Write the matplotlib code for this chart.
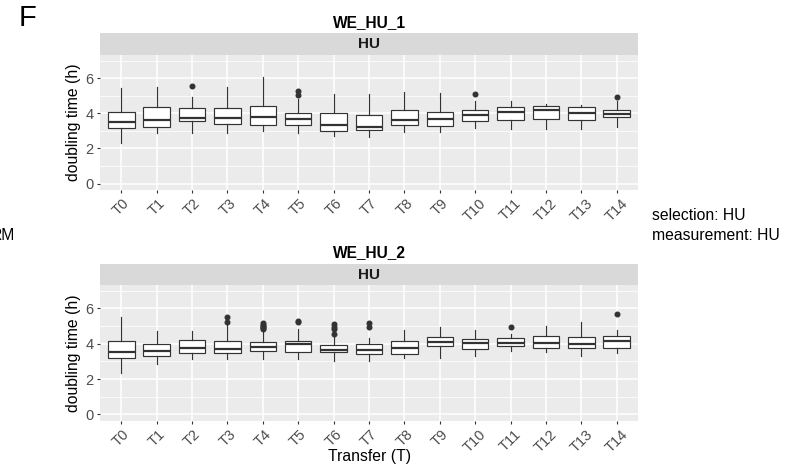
import matplotlib
matplotlib.use('Agg')

import matplotlib.pyplot as plt
from matplotlib.ticker import MultipleLocator

# Helvetica-like text, ggplot look
plt.rcParams['font.family'] = ['Liberation Sans', 'DejaVu Sans']

transfers = ['T0', 'T1', 'T2', 'T3', 'T4', 'T5', 'T6', 'T7',
             'T8', 'T9', 'T10', 'T11', 'T12', 'T13', 'T14']

# ---- WE_HU_1 : doubling time box stats (h) ----
hu1_low = [2.33, 2.86, 2.86, 2.86, 3.01, 2.86, 2.71, 2.67, 2.92, 2.92, 3.18, 3.13, 3.13, 3.13, 3.20]
hu1_q1 = [3.14, 3.22, 3.58, 3.37, 3.35, 3.33, 3.01, 3.05, 3.31, 3.28, 3.54, 3.60, 3.66, 3.62, 3.77]
hu1_med = [3.48, 3.62, 3.75, 3.71, 3.81, 3.67, 3.35, 3.24, 3.60, 3.67, 3.88, 4.05, 4.17, 4.02, 3.94]
hu1_q3 = [4.09, 4.38, 4.32, 4.32, 4.43, 4.00, 4.03, 3.88, 4.20, 4.07, 4.17, 4.34, 4.43, 4.38, 4.17]
hu1_high = [5.45, 5.51, 4.90, 5.47, 6.04, 4.79, 5.08, 5.08, 5.21, 5.13, 4.70, 4.72, 4.51, 4.45, 4.72]
hu1_out = [[], [], [5.53], [], [], [5.28, 5.02], [], [],
           [], [], [5.08], [], [], [], [4.94]]

# ---- WE_HU_2 ----
hu2_low = [2.34, 2.88, 3.16, 3.16, 3.16, 3.16, 3.03, 3.03, 3.20, 3.22, 3.30, 3.58, 3.54, 3.28, 3.49]
hu2_q1 = [3.20, 3.30, 3.50, 3.45, 3.56, 3.54, 3.52, 3.41, 3.41, 3.85, 3.71, 3.87, 3.77, 3.73, 3.75]
hu2_med = [3.52, 3.60, 3.73, 3.68, 3.79, 3.98, 3.64, 3.62, 3.75, 4.11, 4.04, 4.02, 4.02, 3.98, 4.15]
hu2_q3 = [4.13, 3.98, 4.21, 4.15, 4.08, 4.15, 3.90, 3.98, 4.13, 4.40, 4.25, 4.32, 4.44, 4.38, 4.46]
hu2_high = [5.50, 4.70, 4.70, 5.05, 4.72, 4.86, 4.40, 4.30, 4.78, 4.97, 4.76, 4.57, 5.00, 5.22, 4.76]
hu2_out = [[], [], [], [5.50, 5.20], [5.15, 5.08, 5.00, 4.95, 4.90, 4.85], [5.30, 5.24],
           [5.10, 4.97, 4.82, 4.57], [5.16, 4.93], [], [], [], [4.97], [], [], [5.70]]

W, H = 787, 476
fig = plt.figure(figsize=(W / 100, H / 100), dpi=100)

DARK = '#333333'


def px_box(x0, y0, x1, y1):
    # pixel rectangle (top-left origin) -> figure fraction rect
    return [x0 / W, 1 - y1 / H, (x1 - x0) / W, (y1 - y0) / H]


def draw_panel(title, title_y, strip_y, panel_y, low, q1, med, q3, high, out):
    ax = fig.add_axes(px_box(100, panel_y[0], 638, panel_y[1]))
    strip = fig.add_axes(px_box(100, strip_y[0], 638, strip_y[1]))

    stats = []
    for i in range(len(transfers)):
        stats.append({'whislo': low[i], 'q1': q1[i], 'med': med[i],
                      'q3': q3[i], 'whishi': high[i], 'fliers': out[i]})

    ax.bxp(stats, positions=range(len(transfers)), widths=0.75,
           patch_artist=True, showcaps=False,
           boxprops=dict(facecolor='white', edgecolor=DARK, linewidth=0.85),
           medianprops=dict(color=DARK, linewidth=1.6),
           whiskerprops=dict(color=DARK, linewidth=0.85),
           flierprops=dict(marker='o', markerfacecolor=DARK, markeredgecolor=DARK,
                           markersize=3.3, linestyle='none'))

    ax.set_facecolor('#EBEBEB')
    for s in ax.spines.values():
        s.set_visible(False)
    ax.set_xlim(-0.6, 14.6)
    ax.set_ylim(-0.37, 7.32)
    ax.set_yticks([0, 2, 4, 6])
    ax.yaxis.set_minor_locator(MultipleLocator(1))
    ax.set_xticks(range(len(transfers)))
    ax.set_xticklabels(transfers, rotation=45, ha='center')
    ax.set_axisbelow(True)
    ax.grid(which='major', color='white', linewidth=1.1)
    ax.grid(which='minor', axis='y', color='white', linewidth=0.55)
    ax.tick_params(which='major', length=2.5, width=0.8, color=DARK,
                   labelcolor='#4D4D4D', labelsize=10.5, pad=2)
    ax.tick_params(which='minor', length=0)
    ax.set_ylabel('doubling time (h)', fontsize=11.3, labelpad=3)

    strip.set_facecolor('#D9D9D9')
    strip.set_xticks([])
    strip.set_yticks([])
    for s in strip.spines.values():
        s.set_visible(False)
    strip.text(0.5, 0.48, 'HU', transform=strip.transAxes, ha='center', va='center',
               fontsize=11, fontweight='bold', color='#1A1A1A')

    fig.text(369 / W, 1 - title_y / H, title, ha='center', va='center',
             fontsize=11.2, fontweight='bold')
    return ax


draw_panel('WE_HU_1', 23, (33, 55), (55, 190),
           hu1_low, hu1_q1, hu1_med, hu1_q3, hu1_high, hu1_out)
draw_panel('WE_HU_2', 253, (264, 285), (285, 421),
           hu2_low, hu2_q1, hu2_med, hu2_q3, hu2_high, hu2_out)

fig.text(369 / W, 1 - 456 / H, 'Transfer (T)', ha='center', va='center', fontsize=11.3)

# side annotations
fig.text(27 / W, 1 - 18 / H, 'F', ha='center', va='center', fontsize=21)
fig.text(15 / W, 1 - 236 / H, 'RM', ha='right', va='center', fontsize=11.3)
fig.text(652 / W, 1 - 216 / H, 'selection: HU', ha='left', va='center', fontsize=11.3)
fig.text(652 / W, 1 - 236 / H, 'measurement: HU', ha='left', va='center', fontsize=11.3)

fig.savefig('out.png', dpi=100)
